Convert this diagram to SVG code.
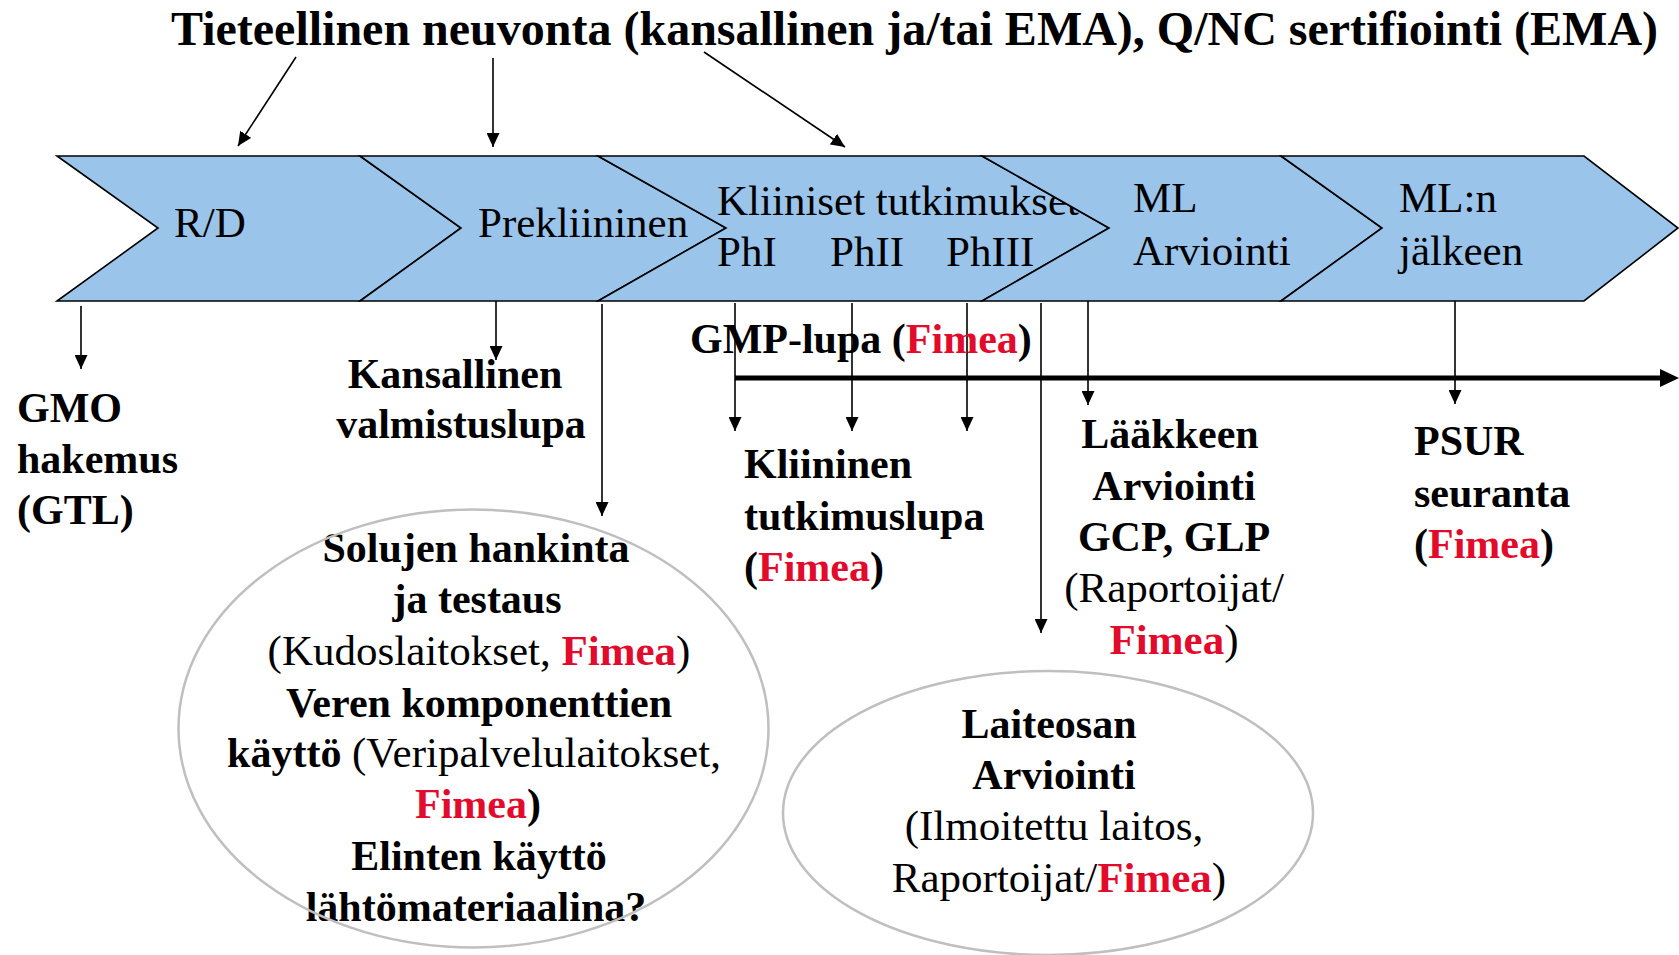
<svg xmlns="http://www.w3.org/2000/svg" width="1679" height="955" viewBox="0 0 1679 955">
<style>
text{font-family:"Liberation Serif","Times New Roman",serif;fill:#000}
.b{font-weight:bold;font-size:42px}
.r{font-weight:normal;font-size:43px}
.red{fill:#E30B2C;font-weight:bold}
.n{font-weight:normal}
.chev{fill:#9AC4EA;stroke:#000;stroke-width:1.6;stroke-linejoin:miter}
.ln{stroke:#000;stroke-width:1.6;fill:none;marker-end:url(#ah)}
.ell{fill:none;stroke:#BFBFBF;stroke-width:2.5}
</style>
<defs>
<marker id="ah" markerWidth="14" markerHeight="13" refX="14" refY="6.5" orient="auto" markerUnits="userSpaceOnUse">
<path d="M0,0 L14,6.5 L0,13 z" fill="#000"/>
</marker>
</defs>
<rect width="1679" height="955" fill="#fff"/>

<g id="title">
<text x="171" y="45" style="font-size:48px;font-weight:bold">Tieteellinen neuvonta (kansallinen ja/tai EMA), Q/NC sertifiointi (EMA)</text>
</g>

<g id="rd">
<polygon class="chev" points="57,156 360,156 461,228 360,301 57,301 158,228"/>
<text class="r" x="174" y="237">R/D</text>
</g>
<g id="prekliininen">
<polygon class="chev" points="360,156 598,156 726,228 598,301 360,301 461,228"/>
<text class="r" x="478" y="237">Prekliininen</text>
</g>
<g id="kliiniset">
<polygon class="chev" points="598,156 982,156 1109,228 982,301 598,301 726,228"/>
<text class="r" x="717" y="215">Kliiniset tutkimukset</text>
<text class="r" x="717" y="266">PhI</text>
<text class="r" x="830" y="266">PhII</text>
<text class="r" x="946" y="266">PhIII</text>
</g>
<g id="ml">
<polygon class="chev" points="982,156 1281,156 1382,228 1281,301 982,301 1109,228"/>
<text class="r" x="1133" y="212">ML</text>
<text class="r" x="1133" y="265">Arviointi</text>
</g>
<g id="mln">
<polygon class="chev" points="1281,156 1584,156 1678,228 1584,301 1281,301 1382,228"/>
<text class="r" x="1399" y="212">ML:n</text>
<text class="r" x="1399" y="265">jälkeen</text>
</g>

<g id="connectors">
<line class="ln" x1="296" y1="57" x2="238" y2="146"/>
<line class="ln" x1="493" y1="58" x2="493" y2="147"/>
<line class="ln" x1="704" y1="52" x2="845" y2="147"/>
<line class="ln" x1="81" y1="306" x2="81" y2="369"/>
<line class="ln" x1="496" y1="301" x2="496" y2="360"/>
<line class="ln" x1="602" y1="304" x2="602" y2="516"/>
<line class="ln" x1="735" y1="303" x2="735" y2="431"/>
<line class="ln" x1="852" y1="303" x2="852" y2="431"/>
<line class="ln" x1="967" y1="303" x2="967" y2="431"/>
<line class="ln" x1="1041" y1="303" x2="1041" y2="633"/>
<line class="ln" x1="1088" y1="301" x2="1088" y2="405"/>
<line class="ln" x1="1455" y1="301" x2="1455" y2="404"/>
<line x1="735" y1="378" x2="1662" y2="378" stroke="#000" stroke-width="5"/>
<polygon points="1660,369 1679,378 1660,387" fill="#000"/>
</g>

<g id="gmo">
<text class="b" x="17" y="422">GMO</text>
<text class="b" x="17" y="473">hakemus</text>
<text class="b" x="17" y="524">(GTL)</text>
</g>
<g id="kansallinen">
<text class="b" x="455" y="388" text-anchor="middle">Kansallinen</text>
<text class="b" x="461" y="438" text-anchor="middle">valmistuslupa</text>
</g>
<g id="gmp">
<text class="b" x="690" y="353">GMP-lupa (<tspan class="red">Fimea</tspan>)</text>
</g>
<g id="kliininen-lupa">
<text class="b" x="744" y="478">Kliininen</text>
<text class="b" x="744" y="530">tutkimuslupa</text>
<text class="b" x="744" y="581">(<tspan class="red">Fimea</tspan>)</text>
</g>
<g id="laakkeen">
<text class="b" x="1170" y="448" text-anchor="middle">Lääkkeen</text>
<text class="b" x="1174" y="500" text-anchor="middle">Arviointi</text>
<text class="b" x="1174" y="551" text-anchor="middle">GCP, GLP</text>
<text class="r" x="1174" y="602" text-anchor="middle">(Raportoijat/</text>
<text class="r" x="1174" y="654" text-anchor="middle"><tspan class="red">Fimea</tspan>)</text>
</g>
<g id="psur">
<text class="b" x="1414" y="455">PSUR</text>
<text class="b" x="1414" y="507">seuranta</text>
<text class="b" x="1414" y="558">(<tspan class="red">Fimea</tspan>)</text>
</g>

<g id="solujen">
<text class="b" x="476" y="562" text-anchor="middle">Solujen hankinta</text>
<text class="b" x="477" y="613" text-anchor="middle">ja testaus</text>
<text class="r" x="479" y="665" text-anchor="middle">(Kudoslaitokset, <tspan class="red">Fimea</tspan>)</text>
<text class="b" x="479" y="717" text-anchor="middle">Veren komponenttien</text>
<text class="b" x="474" y="767" text-anchor="middle">käyttö <tspan class="n" style="font-size:43px">(Veripalvelulaitokset,</tspan></text>
<text class="b" x="478" y="818" text-anchor="middle"><tspan class="red">Fimea</tspan>)</text>
<text class="b" x="479" y="870" text-anchor="middle">Elinten käyttö</text>
<text class="b" x="476" y="921" text-anchor="middle">lähtömateriaalina?</text>
<ellipse class="ell" cx="473.5" cy="728.5" rx="295" ry="219"/>
</g>

<g id="laiteosan">
<text class="b" x="1049" y="738" text-anchor="middle">Laiteosan</text>
<text class="b" x="1054" y="789" text-anchor="middle">Arviointi</text>
<text class="r" x="1054" y="840" text-anchor="middle">(Ilmoitettu laitos,</text>
<text class="r" x="1059" y="892" text-anchor="middle">Raportoijat/<tspan class="red">Fimea</tspan>)</text>
<ellipse class="ell" cx="1048" cy="813" rx="265" ry="142"/>
</g>
</svg>
